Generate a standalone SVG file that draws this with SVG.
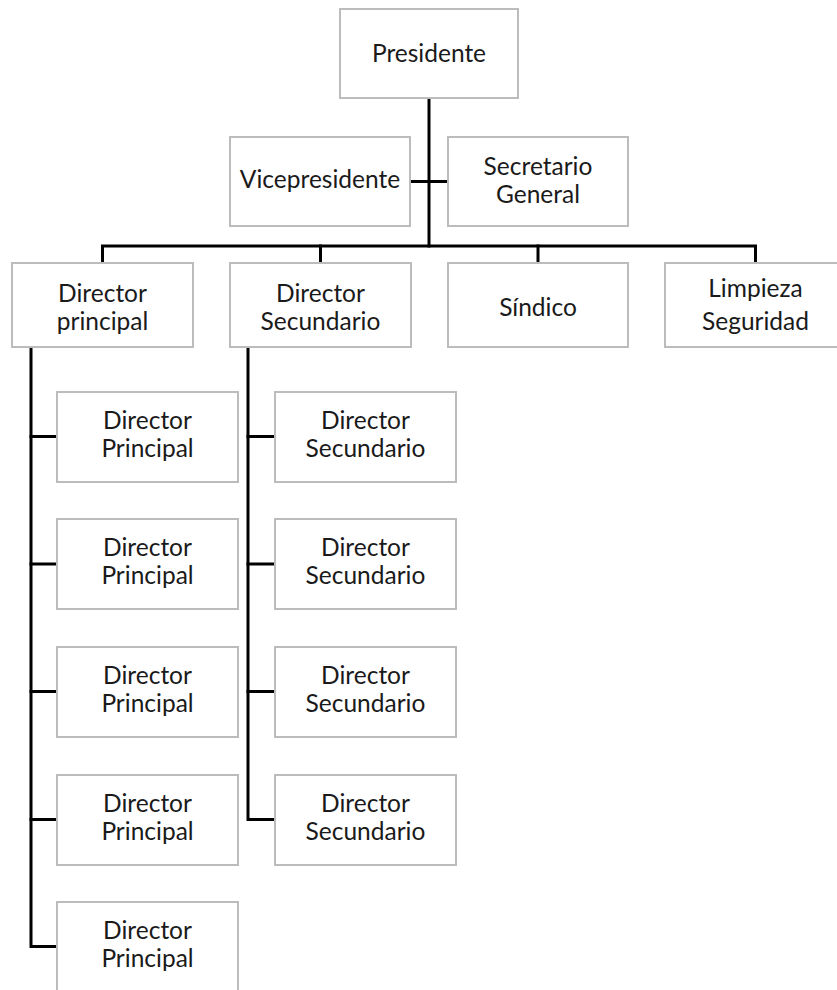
<svg xmlns="http://www.w3.org/2000/svg" width="837" height="990" viewBox="0 0 837 990">
  <style>
    .box { fill: #ffffff; stroke: #bcbcbc; stroke-width: 2; }
    .lbl { font-family: "Lato", "Open Sans", sans-serif; font-size: 24.5px; fill: #1a1a1a; text-anchor: middle; }
    .wire { fill: none; stroke: #000000; stroke-width: 3; stroke-linejoin: miter; stroke-linecap: square; }
  </style>
  <rect width="837" height="990" fill="#ffffff"/>

  <!-- connectors -->
  <g id="connectors" class="wire">
    <!-- trunk from Presidente down to the main bar -->
    <path d="M429 98 V246"/>
    <!-- assistants on the trunk -->
    <path d="M410 181.5 H448"/>
    <!-- main bar and drops -->
    <path d="M102.5 263 V246 H755.5 V263"/>
    <path d="M320.5 246 V263"/>
    <path d="M538 246 V263"/>
    <!-- Director principal branch -->
    <path d="M31 347 V946.5 H57"/>
    <path d="M31 436.5 H57"/>
    <path d="M31 564 H57"/>
    <path d="M31 691.5 H57"/>
    <path d="M31 819.5 H57"/>
    <!-- Director Secundario branch -->
    <path d="M248 347 V819.5 H275"/>
    <path d="M248 436.5 H275"/>
    <path d="M248 564 H275"/>
    <path d="M248 691.5 H275"/>
  </g>

  <g id="presidente">
    <rect class="box" x="340" y="9" width="178" height="89"/>
    <text class="lbl" x="429" y="62">Presidente</text>
  </g>
  <g id="vicepresidente">
    <rect class="box" x="230" y="137" width="180" height="89"/>
    <text class="lbl" x="320" y="188">Vicepresidente</text>
  </g>
  <g id="secretario-general">
    <rect class="box" x="448" y="137" width="180" height="89"/>
    <text class="lbl" x="538" y="175">Secretario</text>
    <text class="lbl" x="538" y="203">General</text>
  </g>

  <g id="director-principal">
    <rect class="box" x="12" y="263" width="181" height="84"/>
    <text class="lbl" x="102.5" y="302">Director</text>
    <text class="lbl" x="102.5" y="330">principal</text>
  </g>
  <g id="director-secundario">
    <rect class="box" x="230" y="263" width="181" height="84"/>
    <text class="lbl" x="320.5" y="302">Director</text>
    <text class="lbl" x="320.5" y="330">Secundario</text>
  </g>
  <g id="sindico">
    <rect class="box" x="448" y="263" width="180" height="84"/>
    <text class="lbl" x="538" y="316">Síndico</text>
  </g>
  <g id="limpieza-seguridad">
    <rect class="box" x="665" y="263" width="181" height="84"/>
    <text class="lbl" x="755.5" y="297">Limpieza</text>
    <text class="lbl" x="755.5" y="330">Seguridad</text>
  </g>

  <g id="principal-1">
    <rect class="box" x="57" y="392" width="181" height="90"/>
    <text class="lbl" x="147.5" y="429">Director</text>
    <text class="lbl" x="147.5" y="457">Principal</text>
  </g>
  <g id="principal-2">
    <rect class="box" x="57" y="519" width="181" height="90"/>
    <text class="lbl" x="147.5" y="556">Director</text>
    <text class="lbl" x="147.5" y="584">Principal</text>
  </g>
  <g id="principal-3">
    <rect class="box" x="57" y="647" width="181" height="90"/>
    <text class="lbl" x="147.5" y="684">Director</text>
    <text class="lbl" x="147.5" y="712">Principal</text>
  </g>
  <g id="principal-4">
    <rect class="box" x="57" y="775" width="181" height="90"/>
    <text class="lbl" x="147.5" y="812">Director</text>
    <text class="lbl" x="147.5" y="840">Principal</text>
  </g>
  <g id="principal-5">
    <rect class="box" x="57" y="902" width="181" height="90"/>
    <text class="lbl" x="147.5" y="939">Director</text>
    <text class="lbl" x="147.5" y="967">Principal</text>
  </g>

  <g id="secundario-1">
    <rect class="box" x="275" y="392" width="181" height="90"/>
    <text class="lbl" x="365.5" y="429">Director</text>
    <text class="lbl" x="365.5" y="457">Secundario</text>
  </g>
  <g id="secundario-2">
    <rect class="box" x="275" y="519" width="181" height="90"/>
    <text class="lbl" x="365.5" y="556">Director</text>
    <text class="lbl" x="365.5" y="584">Secundario</text>
  </g>
  <g id="secundario-3">
    <rect class="box" x="275" y="647" width="181" height="90"/>
    <text class="lbl" x="365.5" y="684">Director</text>
    <text class="lbl" x="365.5" y="712">Secundario</text>
  </g>
  <g id="secundario-4">
    <rect class="box" x="275" y="775" width="181" height="90"/>
    <text class="lbl" x="365.5" y="812">Director</text>
    <text class="lbl" x="365.5" y="840">Secundario</text>
  </g>
</svg>
